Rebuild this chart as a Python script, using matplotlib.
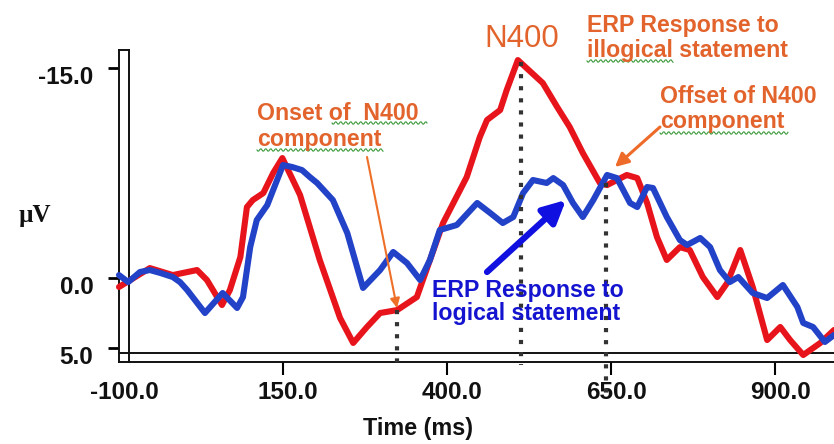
import matplotlib
matplotlib.use("Agg")
import matplotlib.pyplot as plt
import matplotlib.transforms as mtransforms
from matplotlib.lines import Line2D
from matplotlib.patches import FancyArrowPatch
import numpy as np

# ---- data -------------------------------------------------------------
# ERP to illogical statements (red), time in ms, amplitude in microvolts
red_t = [-100, -53, -18, 19, 34, 57, 69, 85, 95, 104, 120, 135, 149, 176, 206,
         237, 257, 278, 298, 324, 354, 394, 430, 450, 461, 481, 491, 508, 546,
         568, 587, 607, 633, 644, 674, 690, 705, 720, 735, 755, 770, 790, 812,
         827, 847, 866, 888, 908, 923, 943, 969, 990]
red_v = [0.64, -0.71, -0.21, -0.57, 0.14, 1.93, 0.86, -1.5, -5.07, -5.57,
         -6.07, -7.5, -8.57, -5.93, -1.29, 2.86, 4.64, 3.5, 2.5, 2.29, 1.36,
         -3.93, -7.21, -10.07, -11.29, -12.0, -13.43, -15.57, -13.93, -12.21,
         -10.79, -8.93, -6.79, -6.64, -7.36, -7.14, -5.36, -2.93, -1.29, -2.21,
         -2.0, -0.07, 1.36, 0.36, -2.0, 0.64, 4.43, 3.5, 4.43, 5.5, 4.64, 3.71]

# ERP to logical statements (blue)
blue_t = [-100, -86, -68, -53, -37, -18, -7, 4, 31, 58, 80, 89, 100, 110, 126,
          135, 150, 164, 179, 191, 202, 226, 248, 272, 298, 318, 339, 359, 374,
          389, 415, 446, 466, 485, 501, 516, 531, 552, 562, 577, 592, 607, 623,
          644, 659, 679, 690, 705, 714, 735, 755, 766, 786, 801, 816, 831, 844,
          866, 888, 912, 934, 943, 958, 976, 990]
blue_v = [-0.21, 0.29, -0.43, -0.57, -0.36, -0.07, 0.29, 0.86, 2.5, 1.07,
          2.14, 1.36, -2.21, -4.14, -5.21, -6.29, -8.07, -7.93, -7.71, -7.21,
          -6.79, -5.57, -3.21, 0.71, -0.57, -1.86, -1.07, 0.14, -1.29, -3.43,
          -3.79, -5.36, -4.64, -3.93, -4.36, -6.07, -7.0, -6.79, -7.14, -6.64,
          -5.36, -4.36, -5.57, -7.36, -7.14, -5.36, -5.07, -6.5, -6.43, -4.36,
          -2.71, -2.36, -2.86, -2.21, -0.57, 0.29, -0.07, 1.07, 1.43, 0.5, 2.07,
          3.21, 3.5, 4.57, 4.07]

x_ticks = [-100, 150, 400, 650, 900]
x_tick_labels = ["-100.0", "150.0", "400.0", "650.0", "900.0"]
y_ticks = [-15, 0, 5]
y_tick_labels = ["-15.0", "0.0", "5.0"]

# N400 markers: (time, top amplitude, bottom amplitude)
onset_marker = (324, 2.29, 6.2)
peak_marker = (513, -15.4, 6.2)
offset_marker = (642, -6.8, 8.7)

# ---- figure -----------------------------------------------------------
W, H = 834, 444
fig = plt.figure(figsize=(W / 100, H / 100), dpi=100)
fig.patch.set_facecolor("white")


def fx(x):
    return x / W


def fy(y):
    return 1 - y / H


ax = fig.add_axes([fx(119), fy(362), (834 - 119) / W, (362 - 50) / H])
ax.set_xlim(-100, 989.9)
ax.set_ylim(6.0, -16.29)  # negative up

RED = "#E8141C"
BLUE = "#2242C8"
ORANGE = "#E2642C"
TXT_BLUE = "#1414D0"

ax.plot(red_t, red_v, color=RED, lw=4.4, solid_joinstyle="round",
        solid_capstyle="round", zorder=3, clip_on=False)
ax.plot(blue_t, blue_v, color=BLUE, lw=4.4, solid_joinstyle="round",
        solid_capstyle="round", zorder=4, clip_on=False)

for t, top, bot in (onset_marker, peak_marker, offset_marker):
    ax.plot([t, t], [top, bot], color="#333333", lw=3.0,
            linestyle=(0, (1, 1.9)), dash_capstyle="butt", zorder=6,
            clip_on=False)

# double-line frame
for s in ("top", "right"):
    ax.spines[s].set_visible(False)
for s in ("left", "bottom"):
    ax.spines[s].set_linewidth(1.4)
    ax.spines[s].set_color("#111111")
ax.add_line(Line2D([10 / 715, 10 / 715], [0, 1], transform=ax.transAxes,
                   color="#111111", lw=1.4, clip_on=False))
ax.add_line(Line2D([0, 1], [9 / 312, 9 / 312], transform=ax.transAxes,
                   color="#111111", lw=1.4, clip_on=False))
ax.add_line(Line2D([0, 10 / 715], [1, 1], transform=ax.transAxes,
                   color="#111111", lw=1.4, clip_on=False))

tick_font = dict(family="Liberation Sans", weight="bold", size=17.5)
ax.set_xticks(x_ticks)
ax.set_xticklabels(x_tick_labels, fontdict=tick_font, color="#111111")
ax.set_yticks(y_ticks)
ax.set_yticklabels(y_tick_labels, fontdict=tick_font, color="#111111")
ax.tick_params(axis="x", direction="out", length=9.4, width=1.5, pad=4)
ax.tick_params(axis="y", direction="out", length=8, width=2.0, pad=10.5)
ax.xaxis.get_major_ticks()[0].tick1line.set_visible(False)

dy = mtransforms.ScaledTranslation(0, -0.07, fig.dpi_scale_trans)
for lab in ax.get_yticklabels():
    lab.set_transform(lab.get_transform() + dy)
dx = mtransforms.ScaledTranslation(0.05, 0, fig.dpi_scale_trans)
for lab in ax.get_xticklabels():
    lab.set_transform(lab.get_transform() + dx)

fig.text(fx(418), fy(428), "Time (ms)", ha="center", va="center",
         family="Liberation Sans", weight="bold", size=16.8, color="#111111")
fig.text(fx(35), fy(215), "\u00b5V", ha="center", va="center",
         family="Liberation Serif", weight="bold", size=18, color="#111111")

# ---- annotations ------------------------------------------------------
ann = dict(family="Liberation Sans", weight="bold", size=16.7)


def label(x, y, s, color, **kw):
    opts = dict(ann)
    opts.update(kw)
    fig.text(fx(x), fy(y), s, ha="left", va="baseline", color=color, **opts)


fig.text(fx(522), fy(47), "N400", ha="center", va="baseline",
         family="Liberation Sans", size=22.5, color=ORANGE)
label(587, 32, "ERP Response to", ORANGE)
label(587, 57, "illogical statement", ORANGE)
label(257, 120, "Onset of  N400", ORANGE)
label(257, 146, "component", ORANGE)
label(660, 103, "Offset of N400", ORANGE)
label(660, 128, "component", ORANGE)
label(432, 297, "ERP Response to", TXT_BLUE)
label(432, 320, "logical statement", TXT_BLUE)

# spell-check squiggles under some words
for x0, x1, y in ((332, 427, 123), (257, 383, 150), (587, 673, 61),
                  (660, 788, 133)):
    xs = np.arange(x0, x1 + 0.5, 1.0)
    ys = y + 1.3 * np.sin((xs - x0) * 2 * np.pi / 5.0)
    fig.add_artist(Line2D(fx(xs), fy(ys), transform=fig.transFigure,
                          color="#3C9A3C", lw=0.8))


def arrow(p0, p1, color, lw, scale):
    fig.add_artist(FancyArrowPatch((fx(p0[0]), fy(p0[1])),
                                   (fx(p1[0]), fy(p1[1])),
                                   transform=fig.transFigure,
                                   arrowstyle="-|>", color=color, lw=lw,
                                   mutation_scale=scale, shrinkA=0, shrinkB=0,
                                   zorder=8))


arrow((367, 157), (397, 308), "#EE7028", 1.5, 14)
arrow((660, 127), (615, 167), "#EE6A28", 2.2, 20)
arrow((487, 272), (566, 200), "#1010E0", 4.5, 34)

fig.savefig("out.png", dpi=100, facecolor="white")
